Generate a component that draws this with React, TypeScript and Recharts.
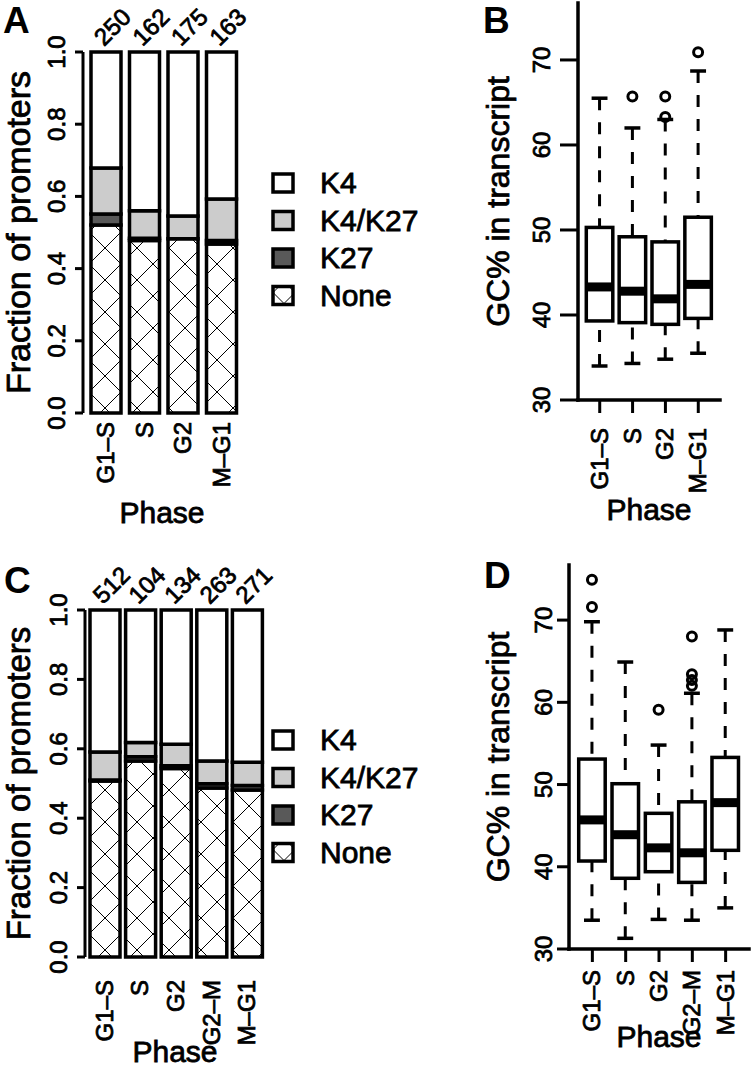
import React from 'react';
import { BarChart, Bar, ComposedChart, XAxis, YAxis, Legend, LabelList } from 'recharts';

const FONT = "'Liberation Sans', Arial, Helvetica, sans-serif";
const INK = { fill: '#000', stroke: '#000', strokeWidth: 0.8, fontFamily: FONT };

// Panel A: promoter marks by phase (first set)
const phasesA = ['G1–S', 'S', 'G2', 'M–G1'];
const countsA = [250, 162, 175, 163];
const noneA = [0.521, 0.478, 0.483, 0.468];
const k27A = [0.03, 0.006, 0, 0.01];
const k4k27A = [0.128, 0.076, 0.063, 0.115];
const k4A = [0.321, 0.44, 0.454, 0.407];

// Panel C: promoter marks by phase (second set)
const phasesC = ['G1–S', 'S', 'G2', 'G2–M', 'M–G1'];
const countsC = [512, 104, 134, 263, 271];
const noneC = [0.507, 0.565, 0.543, 0.487, 0.481];
const k27C = [0.003, 0.012, 0.008, 0.012, 0.013];
const k4k27C = [0.081, 0.041, 0.062, 0.066, 0.067];
const k4C = [0.409, 0.382, 0.387, 0.435, 0.439];

const fracTicks = [0, 0.2, 0.4, 0.6, 0.8, 1];
const legendOrder = ['K4', 'K4/K27', 'K27', 'None'];

// Panel B: GC% in transcript (whisker low, Q1, median, Q3, whisker high, outliers)
const lowB = [34.0, 34.3, 34.8, 35.5];
const q1B = [39.3, 39.1, 38.9, 39.6];
const medB = [43.3, 42.8, 41.9, 43.6];
const q3B = [50.3, 49.2, 48.6, 51.5];
const highB = [65.5, 62.0, 63.0, 68.7];
const outB = [[], [65.7], [63.3, 65.7], [70.9]];

// Panel D
const lowD = [33.5, 31.3, 33.6, 33.5, 35.0];
const q1D = [40.7, 38.6, 39.4, 38.1, 42.0];
const medD = [45.7, 43.9, 42.3, 41.7, 47.8];
const q3D = [53.1, 50.1, 46.5, 47.9, 53.3];
const highD = [69.8, 64.9, 54.8, 61.1, 68.8];
const outD = [[71.6, 74.9], [], [59.1], [62.0, 62.7, 63.4, 68.0], []];

const gcTicks = [30, 40, 50, 60, 70];

const fracRows = (phases, counts, none, k27, k4k27, k4) =>
  phases.map((phase, i) => ({ phase, n: counts[i], none: none[i], k27: k27[i], k4k27: k4k27[i], k4: k4[i] }));

const boxRows = (phases, low, q1, med, q3, high, out) =>
  phases.map((phase, i) => ({
    phase, range: [low[i], high[i]], low: low[i], q1: q1[i], med: med[i], q3: q3[i], high: high[i], out: out[i],
  }));

const dataA = fracRows(phasesA, countsA, noneA, k27A, k4k27A, k4A);
const dataC = fracRows(phasesC, countsC, noneC, k27C, k4k27C, k4C);
const dataB = boxRows(phasesA, lowB, q1B, medB, q3B, highB, outB);
const dataD = boxRows(phasesC, lowD, q1D, medD, q3D, highD, outD);

const XTick = ({ x, y, payload, dy = 0 }: any) => {
  const bx = x + 8;
  const by = y + dy;
  return (
    <text x={bx} y={by} transform={`rotate(-90 ${bx} ${by})`} textAnchor="end" fontSize={24} {...INK}>
      {payload.value}
    </text>
  );
};

const YTick = ({ x, y, payload, dx = 0, digits = 0 }: any) => {
  const bx = x + dx;
  return (
    <text x={bx} y={y} transform={`rotate(-90 ${bx} ${y})`} textAnchor="middle" fontSize={24} {...INK}>
      {Number(payload.value).toFixed(digits)}
    </text>
  );
};

const YTitle = ({ viewBox, text, bx, size }: any) => {
  const cy = viewBox.y + viewBox.height / 2;
  return (
    <text x={bx} y={cy} transform={`rotate(-90 ${bx} ${cy})`} textAnchor="middle" fontSize={size} {...INK}>
      {text}
    </text>
  );
};

const XTitle = ({ viewBox, by }: any) => (
  <text x={viewBox.x + viewBox.width / 2} y={viewBox.y + by} textAnchor="middle" fontSize={30} {...INK}>
    Phase
  </text>
);

const CountLabel = ({ x, y, width, value }: any) => {
  const px = x + width / 2 - 2;
  const py = y - 5;
  return (
    <text x={px} y={py} transform={`rotate(-45 ${px} ${py})`} fontSize={24} {...INK}>
      {value}
    </text>
  );
};

const LegendBox = ({ payload, hatch }: any) => {
  const items = legendOrder
    .map((name) => (payload || []).find((p: any) => p.value === name))
    .filter(Boolean);
  return (
    <svg width={180} height={150} style={{ overflow: 'visible' }}>
      <defs>
        <pattern id={hatch} patternUnits="userSpaceOnUse" width={22} height={22} x={3} y={-3}>
          <rect width={22} height={22} fill="#fff" />
          <path d="M0,0L22,22M22,0L0,22" stroke="#000" strokeWidth={1} />
        </pattern>
      </defs>
      {items.map((it: any, i: number) => {
        const fill = it.payload && it.payload.fill ? it.payload.fill : it.color;
        return (
          <g key={it.value} transform={`translate(0, ${18 + i * 37.5})`}>
            <rect x={3} y={-9} width={20} height={18} fill={String(fill).startsWith('url') ? `url(#${hatch})` : fill} stroke="#000" strokeWidth={3.5} />
            <text x={50} y={10} fontSize={30} {...INK}>{it.value}</text>
          </g>
        );
      })}
    </svg>
  );
};

const BoxShape = (props: any) => {
  const { x, y, width, height, payload } = props;
  const span = payload.high - payload.low;
  const py = (v: number) => y + ((payload.high - v) / span) * height;
  const cx = x + width / 2;
  const cap = width * 0.3;
  return (
    <g>
      <line x1={cx} x2={cx} y1={py(payload.high)} y2={py(payload.q3)} stroke="#000" strokeWidth={3} strokeDasharray="12 12" />
      <line x1={cx} x2={cx} y1={py(payload.low)} y2={py(payload.q1)} stroke="#000" strokeWidth={3} strokeDasharray="12 12" />
      <line x1={cx - cap} x2={cx + cap} y1={py(payload.high)} y2={py(payload.high)} stroke="#000" strokeWidth={3.5} />
      <line x1={cx - cap} x2={cx + cap} y1={py(payload.low)} y2={py(payload.low)} stroke="#000" strokeWidth={3.5} />
      <rect x={x} y={py(payload.q3)} width={width} height={py(payload.q1) - py(payload.q3)} fill="#fff" stroke="#000" strokeWidth={3.5} />
      <line x1={x} x2={x + width} y1={py(payload.med)} y2={py(payload.med)} stroke="#000" strokeWidth={9} />
      {payload.out.map((v: number, i: number) => (
        <circle key={i} cx={cx} cy={py(v)} r={4.5} fill="none" stroke="#000" strokeWidth={3} />
      ))}
    </g>
  );
};

const FracPanel = ({ data, id, height, top, plotRight, yAxisW, xAxisH, padLeft, xDy, titleBy, titleSize, legendTop, hatchY }: any) => {
  const width = 470;
  const seg = { stackId: 's', stroke: '#000', strokeWidth: 3.5, barSize: 30, isAnimationActive: false };
  return (
    <BarChart width={width} height={height} data={data} margin={{ top, right: width - plotRight, bottom: 0, left: 0 }}>
      <defs>
        <pattern id={id} patternUnits="userSpaceOnUse" width={32} height={32} x={89} y={hatchY}>
          <rect width={32} height={32} fill="#fff" />
          <path d="M0,0L32,32M32,0L0,32" stroke="#000" strokeWidth={1} />
        </pattern>
      </defs>
      <XAxis
        dataKey="phase"
        interval={0}
        height={xAxisH}
        padding={{ left: padLeft, right: 0 }}
        axisLine={false}
        tickLine={false}
        tickSize={6}
        tick={<XTick dy={xDy} />}
        label={<XTitle by={titleBy} />}
      />
      <YAxis
        domain={[0, 1]}
        ticks={fracTicks}
        width={yAxisW}
        tickSize={8}
        axisLine={{ stroke: '#000', strokeWidth: 3 }}
        tickLine={{ stroke: '#000', strokeWidth: 3 }}
        tick={<YTick dx={-8} digits={1} />}
        label={<YTitle text="Fraction of promoters" bx={30} size={titleSize} />}
      />
      <Bar dataKey="none" name="None" fill={`url(#${id})`} {...seg} />
      <Bar dataKey="k27" name="K27" fill="#595959" {...seg} />
      <Bar dataKey="k4k27" name="K4/K27" fill="#cccccc" {...seg} />
      <Bar dataKey="k4" name="K4" fill="#ffffff" {...seg}>
        <LabelList dataKey="n" content={<CountLabel />} />
      </Bar>
      <Legend
        layout="vertical"
        align="center"
        verticalAlign="middle"
        wrapperStyle={{ left: 270, top: legendTop, width: 180 }}
        content={<LegendBox hatch={`${id}-leg`} />}
      />
    </BarChart>
  );
};

const GCPanel = ({ data, height, top, right, yAxisW, xAxisH, pad, yTick, yDx, xDy, titleBy, barSize }: any) => {
  const frame = { stroke: '#000', strokeWidth: 3.5, strokeLinecap: 'square' };
  return (
    <ComposedChart width={271} height={height} data={data} margin={{ top, right, bottom: 0, left: 0 }}>
      <XAxis
        dataKey="phase"
        interval={0}
        height={xAxisH}
        padding={{ left: pad, right: pad }}
        axisLine={frame}
        tickLine={{ stroke: '#000', strokeWidth: 3 }}
        tickSize={13}
        tick={<XTick dy={xDy} />}
        label={<XTitle by={titleBy} />}
      />
      <XAxis xAxisId="top" orientation="top" dataKey="phase" height={0} tick={false} tickLine={false} axisLine={frame} />
      <YAxis
        domain={[30, 76.7]}
        ticks={gcTicks}
        allowDataOverflow
        width={yAxisW}
        tickSize={yTick}
        axisLine={frame}
        tickLine={{ stroke: '#000', strokeWidth: 3 }}
        tick={<YTick dx={yDx} />}
        label={<YTitle text="GC% in transcript" bx={29} size={32} />}
      />
      <YAxis yAxisId="r" orientation="right" width={0} tick={false} tickLine={false} axisLine={frame} />
      <Bar dataKey="range" barSize={barSize} isAnimationActive={false} shape={(p: any) => <BoxShape {...p} />} />
    </ComposedChart>
  );
};

const letters = [
  { t: 'A', x: 3, y: 33 },
  { t: 'B', x: 483, y: 33 },
  { t: 'C', x: 4, y: 593 },
  { t: 'D', x: 484, y: 588 },
];

export default function App() {
  return (
    <div style={{ position: 'absolute', left: 0, top: 0, width: 751, height: 1088, background: '#fff', overflow: 'hidden' }}>
      <div style={{ position: 'absolute', left: 0, top: 0 }}>
        <FracPanel data={dataA} id="hatchA" height={530} top={52} plotRight={241} yAxisW={83} xAxisH={117} padLeft={4} xDy={1} titleBy={110} titleSize={34} legendTop={165} hatchY={232} />
      </div>
      <div style={{ position: 'absolute', left: 0, top: 540 }}>
        <FracPanel data={dataC} id="hatchC" height={548} top={70} plotRight={265} yAxisW={85} xAxisH={131} padLeft={2} xDy={15} titleBy={105} titleSize={33} legendTop={182} hatchY={10} />
      </div>
      <div style={{ position: 'absolute', left: 480, top: 0 }}>
        <GCPanel data={dataB} height={530} top={3} right={31} yAxisW={98} xAxisH={130} pad={5.3} yTick={18} yDx={-8} xDy={13} titleBy={120} barSize={26.5} />
      </div>
      <div style={{ position: 'absolute', left: 480, top: 540 }}>
        <GCPanel data={dataD} height={548} top={25} right={2} yAxisW={89} xAxisH={139} pad={6.7} yTick={12} yDx={-3} xDy={6} titleBy={98} barSize={26.5} />
      </div>
      <svg width={751} height={1088} style={{ position: 'absolute', left: 0, top: 0, pointerEvents: 'none' }}>
        {letters.map((l) => (
          <text key={l.t} x={l.x} y={l.y} fontSize={37} fontWeight="bold" fontFamily={FONT} fill="#000">{l.t}</text>
        ))}
      </svg>
    </div>
  );
}
